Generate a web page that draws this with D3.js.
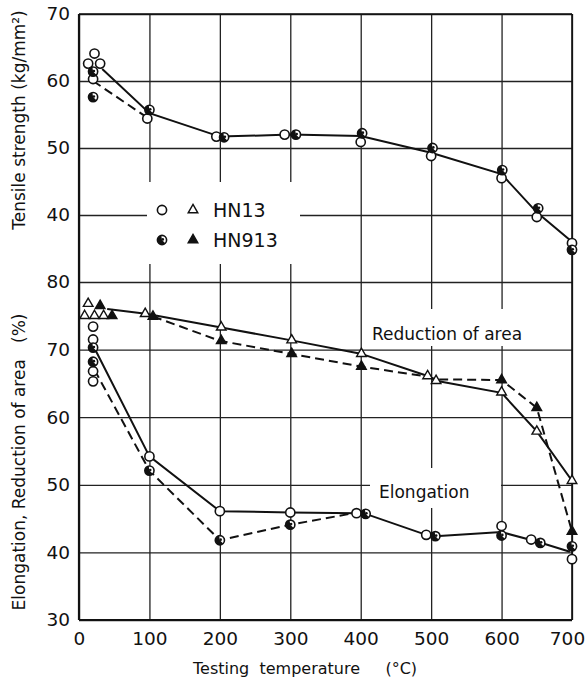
<!DOCTYPE html>
<html>
<head>
<meta charset="utf-8">
<script src="https://cdn.jsdelivr.net/npm/d3@7"></script>
<style>
  body { margin: 0; background: #fff; }
  svg text { font-family: "DejaVu Sans", sans-serif; fill: #111; }
</style>
</head>
<body>
<svg></svg>
<script>
//temperatures on the x axis and tick labels
var tempTicks = [0, 100, 200, 300, 400, 500, 600, 700];
var tensileTicks = [40, 50, 60, 70];
var percentTicks = [30, 40, 50, 60, 70, 80];

//tensile strength (kg/mm2), [temperature, value]
var tensileHN13 = [[13, 62.6], [22, 64.1], [30, 62.6], [20, 60.3], [97, 54.4], [195, 51.7], [292, 52.0],
                   [400, 50.9], [500, 48.8], [600, 45.5], [650, 39.7], [700, 35.8]];
var tensileHN913 = [[20, 61.4], [20, 57.6], [100, 55.7], [206, 51.6], [308, 52.0], [402, 52.2],
                    [502, 50.0], [601, 46.7], [652, 41.0], [700, 34.8]];
//drawn curves for tensile strength
var tensileLineHN13 = [[33, 61.8], [100, 55.2], [200, 51.7], [300, 52.0], [400, 51.8], [500, 49.3],
                       [600, 46.1], [650, 40.4], [700, 36.0]];
var tensileLineHN913 = [[20, 60.0], [96, 54.6]];

//reduction of area (%)
var reductionHN13 = [[13, 76.8], [8, 75.0], [22, 75.0], [35, 75.0], [94, 75.3], [202, 73.3], [302, 71.4],
                     [401, 69.4], [495, 66.1], [507, 65.4], [600, 63.7], [650, 57.9], [700, 50.6]];
var reductionHN913 = [[30, 76.5], [47, 75.0], [105, 74.9], [202, 71.3], [302, 69.4], [401, 67.5],
                      [600, 65.5], [650, 61.4], [700, 43.1]];
var reductionLineHN13 = [[40, 76.0], [95, 75.3], [200, 73.3], [300, 71.4], [400, 69.4], [495, 66.1],
                         [507, 65.4], [600, 63.6], [650, 57.9], [700, 50.6]];
var reductionLineHN913 = [[105, 74.9], [200, 71.3], [300, 69.4], [400, 67.5], [495, 66.0], [507, 65.6],
                          [600, 65.5], [650, 61.4], [700, 43.1]];

//elongation (%)
var elongHN13 = [[20, 73.4], [20, 71.5], [20, 66.8], [20, 65.3], [100, 54.2], [200, 46.1], [300, 45.9],
                 [394, 45.8], [493, 42.6], [600, 43.9], [642, 41.9], [700, 39.0]];
var elongHN913 = [[20, 70.3], [20, 68.2], [100, 52.1], [200, 41.8], [300, 44.1], [407, 45.7],
                  [506, 42.4], [600, 42.5], [655, 41.4], [700, 40.9]];
var elongLineHN13 = [[24, 69.8], [100, 54.2], [200, 46.1], [300, 45.9], [394, 45.8], [407, 45.7],
                     [493, 42.6], [506, 42.4], [600, 43.0], [650, 41.6], [697, 40.1]];
var elongLineHN913 = [[22, 67.0], [100, 52.1], [200, 41.8], [300, 44.1], [390, 45.8]];

var screen = {width: 588, height: 680};
var plot = {left: 79, right: 572, top: 14, mid: 282, bottom: 620};

var svg = d3.select("svg")
    .attr("width", screen.width)
    .attr("height", screen.height);

var xScale = d3.scaleLinear().domain([0, 700]).range([plot.left, plot.right]);
var yTop = d3.scaleLinear().domain([30, 70]).range([plot.mid, plot.top]);
var yBot = d3.scaleLinear().domain([30, 80]).range([plot.bottom, plot.mid]);

//grid lines come from the axes themselves
var drawAxes = function()
{
    var xAxis = svg.append("g")
        .attr("transform", "translate(0," + plot.bottom + ")")
        .call(d3.axisBottom(xScale).tickValues(tempTicks)
              .tickSizeInner(-(plot.bottom - plot.top)).tickSizeOuter(0).tickPadding(12));

    var topAxis = svg.append("g")
        .attr("transform", "translate(" + plot.left + ",0)")
        .call(d3.axisLeft(yTop).tickValues(tensileTicks)
              .tickSizeInner(-(plot.right - plot.left)).tickSizeOuter(0).tickPadding(9));

    var botAxis = svg.append("g")
        .attr("transform", "translate(" + plot.left + ",0)")
        .call(d3.axisLeft(yBot).tickValues(percentTicks)
              .tickSizeInner(-(plot.right - plot.left)).tickSizeOuter(0).tickPadding(9));

    [xAxis, topAxis, botAxis].forEach(function(g)
    {
        g.select(".domain").remove();
        g.selectAll(".tick line").attr("stroke", "#222").attr("stroke-width", 1.3);
        g.selectAll(".tick text").attr("font-size", 18.5).attr("fill", "#111");
    });

    //last label sits against the right edge
    xAxis.selectAll(".tick text")
        .filter(function(d) { return d == 700; })
        .attr("dx", -5);
}

//white patches that break the grid behind legend and labels
var drawGaps = function()
{
    var gaps = [
        {x: 147, y: 182, w: 153, h: 82},
        {x: 368, y: 309, w: 160, h: 37},
        {x: 370, y: 468, w: 131, h: 40}
    ];
    svg.selectAll("rect.gap")
        .data(gaps)
        .enter()
        .append("rect")
        .attr("class", "gap")
        .attr("x", function(d) { return d.x; })
        .attr("y", function(d) { return d.y; })
        .attr("width", function(d) { return d.w; })
        .attr("height", function(d) { return d.h; })
        .attr("fill", "#fff");
}

var drawFrame = function()
{
    var frame = svg.append("g").attr("stroke", "#111").attr("fill", "none");
    frame.append("line").attr("x1", plot.left).attr("x2", plot.left)
        .attr("y1", plot.top).attr("y2", plot.bottom).attr("stroke-width", 2.2);
    frame.append("line").attr("x1", plot.left).attr("x2", plot.right)
        .attr("y1", plot.bottom).attr("y2", plot.bottom).attr("stroke-width", 2.2);
    frame.append("line").attr("x1", plot.left).attr("x2", plot.right)
        .attr("y1", plot.top).attr("y2", plot.top).attr("stroke-width", 1.6);
    frame.append("line").attr("x1", plot.right).attr("x2", plot.right)
        .attr("y1", plot.top).attr("y2", plot.bottom).attr("stroke-width", 1.6);
}

var drawCurve = function(points, yScale, dashed)
{
    var line = d3.line()
        .x(function(d) { return xScale(d[0]); })
        .y(function(d) { return yScale(d[1]); });
    svg.append("path")
        .datum(points)
        .attr("d", line)
        .attr("fill", "none")
        .attr("stroke", "#111")
        .attr("stroke-width", 2)
        .attr("stroke-dasharray", dashed ? "9,5" : null);
}

//kind: "open", "half" circles or "tri", "solidtri" triangles
var addMarker = function(g, kind)
{
    if (kind == "open" || kind == "half")
    {
        g.append("circle").attr("r", 4.6)
            .attr("fill", "#fff").attr("stroke", "#111").attr("stroke-width", 1.6);
        if (kind == "half")
        {
            g.append("path")
                .attr("d", d3.arc()({innerRadius: 0, outerRadius: 4.6, startAngle: Math.PI * 0.75, endAngle: Math.PI * 1.95}))
                .attr("fill", "#111");
            g.append("circle").attr("r", 1.3).attr("cx", 0.8).attr("cy", -0.6).attr("fill", "#111");
        }
    }
    else
    {
        g.append("path")
            .attr("d", d3.symbol(d3.symbolTriangle, 40)())
            .attr("fill", kind == "solidtri" ? "#111" : "#fff")
            .attr("stroke", "#111").attr("stroke-width", 1.4);
    }
}

var drawMarkers = function(points, yScale, kind)
{
    svg.append("g")
        .selectAll("g")
        .data(points)
        .enter()
        .append("g")
        .attr("transform", function(d) { return "translate(" + xScale(d[0]) + "," + yScale(d[1]) + ")"; })
        .each(function() { addMarker(d3.select(this), kind); });
}

var drawLabels = function()
{
    svg.append("text")
        .attr("transform", "translate(25,120) rotate(-90)")
        .attr("text-anchor", "middle")
        .attr("font-size", 17)
        .text("Tensile strength (kg/mm²)");

    svg.append("text")
        .attr("transform", "translate(25,462) rotate(-90)")
        .attr("text-anchor", "middle")
        .attr("font-size", 17)
        .attr("xml:space", "preserve")
        .text("Elongation, Reduction of area   (%)");

    svg.append("text")
        .attr("x", 193).attr("y", 674)
        .attr("font-size", 16)
        .attr("xml:space", "preserve")
        .text("Testing  temperature     (°C)");

    svg.append("text")
        .attr("x", 372).attr("y", 340)
        .attr("font-size", 17)
        .text("Reduction of area");

    svg.append("text")
        .attr("x", 379).attr("y", 498)
        .attr("font-size", 17)
        .text("Elongation");
}

var drawLegend = function()
{
    var rows = [
        {name: "HN13", circle: "open", tri: "tri", y: 210},
        {name: "HN913", circle: "half", tri: "solidtri", y: 240}
    ];
    rows.forEach(function(r)
    {
        addMarker(svg.append("g").attr("transform", "translate(162," + r.y + ")"), r.circle);
        addMarker(svg.append("g").attr("transform", "translate(193," + r.y + ")"), r.tri);
        svg.append("text")
            .attr("x", 213).attr("y", r.y + 7)
            .attr("font-size", 19)
            .text(r.name);
    });
}

var initGraph = function()
{
    drawAxes();
    drawGaps();
    drawFrame();

    drawCurve(tensileLineHN13, yTop, false);
    drawCurve(tensileLineHN913, yTop, true);
    drawCurve(reductionLineHN13, yBot, false);
    drawCurve(reductionLineHN913, yBot, true);
    drawCurve(elongLineHN13, yBot, false);
    drawCurve(elongLineHN913, yBot, true);

    drawMarkers(tensileHN13, yTop, "open");
    drawMarkers(tensileHN913, yTop, "half");
    drawMarkers(reductionHN13, yBot, "tri");
    drawMarkers(reductionHN913, yBot, "solidtri");
    drawMarkers(elongHN13, yBot, "open");
    drawMarkers(elongHN913, yBot, "half");

    drawLabels();
    drawLegend();
}

initGraph();
</script>
</body>
</html>
